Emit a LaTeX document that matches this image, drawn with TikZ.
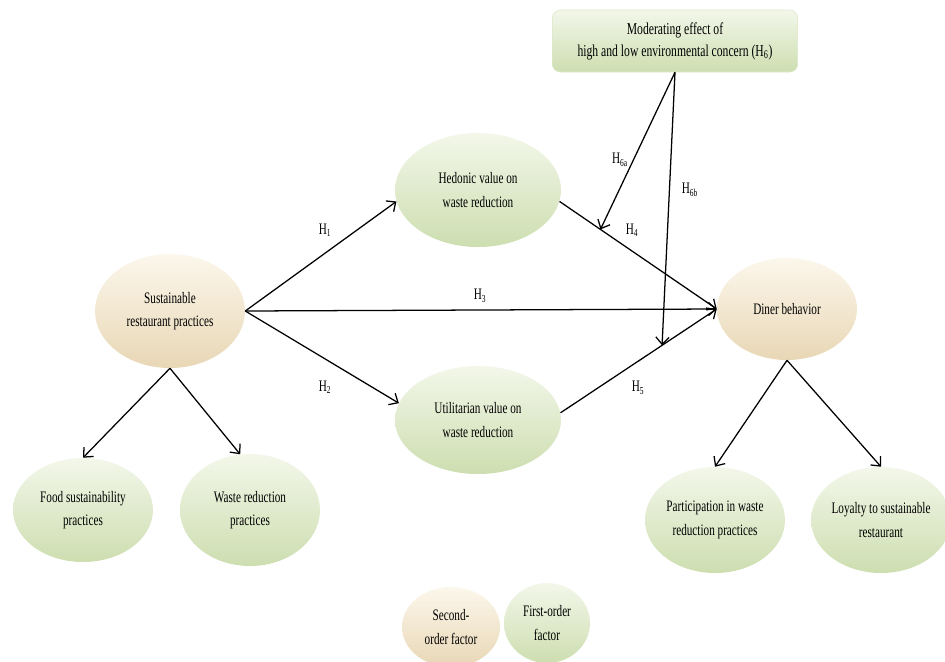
\documentclass[tikz,border=0pt]{standalone}
\usepackage{fontspec}
\setmainfont{Liberation Serif}[FakeStretch=0.70]
\definecolor{leafpale}{RGB}{243,247,234}
\definecolor{leafdeep}{RGB}{205,222,176}
\definecolor{sandpale}{RGB}{252,247,236}
\definecolor{sanddeep}{RGB}{232,215,181}
\usetikzlibrary{arrows.meta,positioning,calc,shapes.geometric}

\begin{document}
\begin{tikzpicture}[x=0.75pt, y=-0.75pt,
    firstorder/.style={ellipse, top color=leafpale, bottom color=leafdeep,
          align=center, inner sep=0pt, font=\fontsize{12}{17.5}\selectfont},
    secondorder/.style={ellipse, top color=sandpale, bottom color=sanddeep,
          align=center, inner sep=0pt, font=\fontsize{12}{17.5}\selectfont},
    link/.style={draw=black, line width=0.95pt, -{Straight Barb[length=5.5pt,width=10pt]}},
    hyp/.style={inner sep=1pt, font=\fontsize{12}{14}\selectfont}]
    \useasboundingbox (0,0) rectangle (945,661);

    \node[draw=leafdeep!70, rounded corners=6pt, top color=leafpale, bottom color=leafdeep,
          align=center, minimum width=184pt, minimum height=46.5pt,
          font=\fontsize{12.5}{16.5}\selectfont] (moder) at (675,41)
          {Moderating effect of\\high and low environmental concern (H\textsubscript{6})};

    \node[secondorder, minimum width=112.5pt, minimum height=85.5pt] (sust) at (170,311)
          {Sustainable\\restaurant practices};
    \node[firstorder, minimum width=124.5pt, minimum height=85.5pt] (hedon) at (478,190)
          {Hedonic value on\\waste reduction};
    \node[firstorder, minimum width=124.5pt, minimum height=81pt] (utili) at (478,420)
          {Utilitarian value on\\waste reduction};
    \node[secondorder, minimum width=105pt, minimum height=76.5pt] (diner) at (787,309)
          {Diner behavior};
    \node[firstorder, minimum width=105pt, minimum height=78pt] (food) at (83,510)
          {Food sustainability\\practices};
    \node[firstorder, minimum width=105pt, minimum height=84pt] (waste) at (250,510)
          {Waste reduction\\practices};
    \node[firstorder, minimum width=105pt, minimum height=79.5pt] (partic) at (715,520)
          {Participation in waste\\reduction practices};
    \node[firstorder, minimum width=96pt, minimum height=79.5pt] (loyal) at (881,520)
          {Loyalty to sustainable\\restaurant};

    \node[secondorder, minimum width=73.5pt, minimum height=60pt] (legsecond) at (451,627)
          {Second-\\order factor};
    \node[firstorder, minimum width=64.5pt, minimum height=60pt] (legfirst) at (547,623)
          {First-order\\factor};

    \draw[link] (sust.east) -- (hedon.188);
    \draw[link] (sust.east) -- (utili.168);
    \draw[link] (sust.east) -- (diner.west);
    \draw[link] (hedon.352) -- (diner.west);
    \draw[link] (utili.5) -- (diner.west);
    \coordinate (onh4) at ($(hedon.352)!0.26!(diner.west)$);
    \coordinate (onh5) at ($(utili.5)!0.65!(diner.west)$);
    \draw[link] (moder.south) -- (onh4);
    \draw[link] (moder.south) -- (onh5);
    \draw[link] (sust.south) -- (food.north);
    \draw[link] (sust.south) -- (waste.100);
    \draw[link] (diner.south) -- (partic.north);
    \draw[link] (diner.south) -- (loyal.north);

    \node[hyp] (lhone) at (325,230) {H\textsubscript{1}};
    \node[hyp] (lhtwo) at (325,387) {H\textsubscript{2}};
    \node[hyp] (lhthree) at (480,296) {H\textsubscript{3}};
    \node[hyp] (lhfour) at (632,230) {H\textsubscript{4}};
    \node[hyp] (lhfive) at (638,388) {H\textsubscript{5}};
    \node[hyp] (lhsixa) at (620,160) {H\textsubscript{6a}};
    \node[hyp] (lhsixb) at (690,190) {H\textsubscript{6b}};
\end{tikzpicture}
\end{document}
